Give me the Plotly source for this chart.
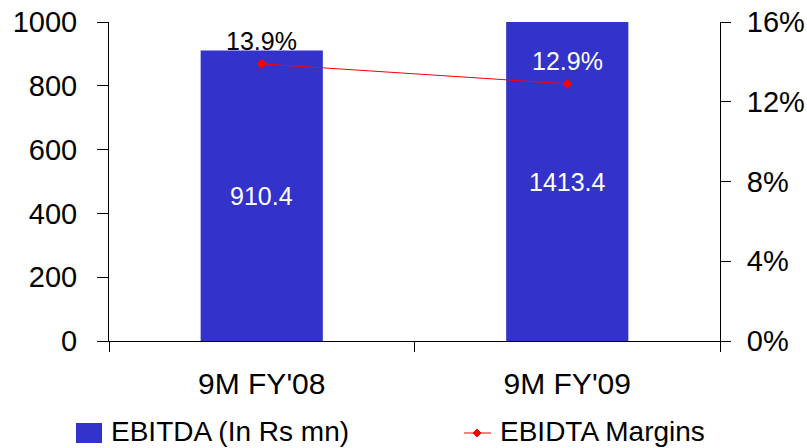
import plotly.graph_objects as go

# ---- data ----
periods = ["9M FY'08", "9M FY'09"]
ebitda = [910.4, 1413.4]          # In Rs mn
margins = [13.9, 12.9]            # EBITDA margin, %
margin_label_colors = ["black", "white"]

left_ticks = [0, 200, 400, 600, 800, 1000]
right_ticks = [0, 4, 8, 12, 16]
right_tick_labels = ["0%", "4%", "8%", "12%", "16%"]

bar_name = "EBITDA (In Rs mn)"
line_name = "EBIDTA Margins"

# ---- layout geometry ----
W, H = 807, 448
ML, MR, MT, MB = 109, 87, 22, 107
PW, PH = W - ML - MR, H - MT - MB
LEFT_MAX = left_ticks[-1]
RIGHT_MAX = right_ticks[-1]

FONT = "Liberation Sans, Arial, sans-serif"
BAR_COLOR = "#3333CC"
LINE_COLOR = "#FF0000"


def xp(px):
    return (px - ML) / PW


def yp(py):
    return (MT + PH - py) / PH


fig = go.Figure()

fig.add_trace(go.Bar(
    x=periods, y=ebitda, name=bar_name,
    marker=dict(color=BAR_COLOR, line=dict(width=0)),
    width=0.4, yaxis="y", showlegend=False,
))

fig.add_trace(go.Scatter(
    x=periods, y=margins, name=line_name, yaxis="y2",
    mode="lines+markers",
    line=dict(color=LINE_COLOR, width=1),
    marker=dict(symbol="diamond", size=8, color=LINE_COLOR),
    cliponaxis=False, showlegend=False,
))

annotations = []

# margin labels above each point
for p, m, c in zip(periods, margins, margin_label_colors):
    annotations.append(dict(
        x=p, y=m, xref="x", yref="y2", yshift=23,
        text=f"{m}%", showarrow=False,
        font=dict(family=FONT, size=25, color=c),
    ))

# bar value labels, centred in the visible part of each bar
for p, v in zip(periods, ebitda):
    annotations.append(dict(
        x=p, y=min(v, LEFT_MAX) / 2, xref="x", yref="y",
        text=f"{v:.1f}", showarrow=False,
        font=dict(family=FONT, size=25, color="white"),
    ))

# legend row
legend_y = 433
legend_font = dict(family=FONT, size=28, color="black")
annotations.append(dict(
    x=xp(110), y=yp(legend_y - 2), xref="paper", yref="paper",
    text=bar_name, showarrow=False, xanchor="left", yanchor="middle",
    borderpad=0, font=legend_font,
))
annotations.append(dict(
    x=xp(499), y=yp(legend_y - 2), xref="paper", yref="paper",
    text=line_name, showarrow=False, xanchor="left", yanchor="middle",
    borderpad=0, font=legend_font,
))

shapes = [
    dict(type="rect", xref="paper", yref="paper",
         x0=xp(76), x1=xp(102), y0=yp(443), y1=yp(423),
         fillcolor=BAR_COLOR, line=dict(width=0)),
    dict(type="line", xref="paper", yref="paper",
         x0=xp(464), x1=xp(491), y0=yp(legend_y), y1=yp(legend_y),
         line=dict(color=LINE_COLOR, width=1)),
    dict(type="path", xref="paper", yref="paper",
         xsizemode="pixel", ysizemode="pixel",
         xanchor=xp(477), yanchor=yp(legend_y),
         path="M 0 4 L 4 0 L 0 -4 L -4 0 Z",
         fillcolor=LINE_COLOR, line=dict(color=LINE_COLOR, width=1)),
]

tickfont = dict(family=FONT, size=29, color="black")

fig.update_layout(
    width=W, height=H,
    margin=dict(l=ML, r=MR, t=MT, b=MB, pad=0, autoexpand=False),
    paper_bgcolor="white", plot_bgcolor="white",
    showlegend=False,
    bargap=0.6,
    xaxis=dict(
        type="category", range=[-0.5, 1.5],
        showline=True, linecolor="black", linewidth=1,
        ticks="outside", ticklen=10, tickcolor="black", tickson="boundaries",
        tickfont=dict(family=FONT, size=30, color="black"),
        showgrid=False, zeroline=False,
        ticklabelstandoff=16,
    ),
    xaxis2=dict(
        type="category", range=[-0.5, 1.5], overlaying="x",
        categoryarray=periods, categoryorder="array",
        ticks="inside", ticklen=8, tickcolor="black", tickson="boundaries",
        showticklabels=False, showline=False, showgrid=False, zeroline=False,
    ),
    yaxis=dict(
        range=[0, LEFT_MAX], tickvals=left_ticks,
        showline=True, linecolor="black", linewidth=1,
        ticks="outside", ticklen=11, tickcolor="black",
        tickfont=tickfont, showgrid=False, zeroline=False,
        ticklabelstandoff=14,
    ),
    yaxis2=dict(
        range=[0, RIGHT_MAX], tickvals=right_ticks, ticktext=right_tick_labels,
        overlaying="y", side="right",
        showline=True, linecolor="black", linewidth=1,
        ticks="outside", ticklen=10, tickcolor="black",
        tickfont=tickfont, showgrid=False, zeroline=False,
        ticklabelstandoff=10,
    ),
    yaxis3=dict(
        range=[0, LEFT_MAX], tickvals=left_ticks, overlaying="y", side="left",
        ticks="inside", ticklen=11, tickcolor="black",
        showticklabels=False, showline=False, showgrid=False, zeroline=False,
    ),
    yaxis4=dict(
        range=[0, RIGHT_MAX], tickvals=right_ticks, overlaying="y", side="right",
        ticks="inside", ticklen=10, tickcolor="black",
        showticklabels=False, showline=False, showgrid=False, zeroline=False,
    ),
    annotations=annotations,
    shapes=shapes,
)

fig.write_html("out.html")
